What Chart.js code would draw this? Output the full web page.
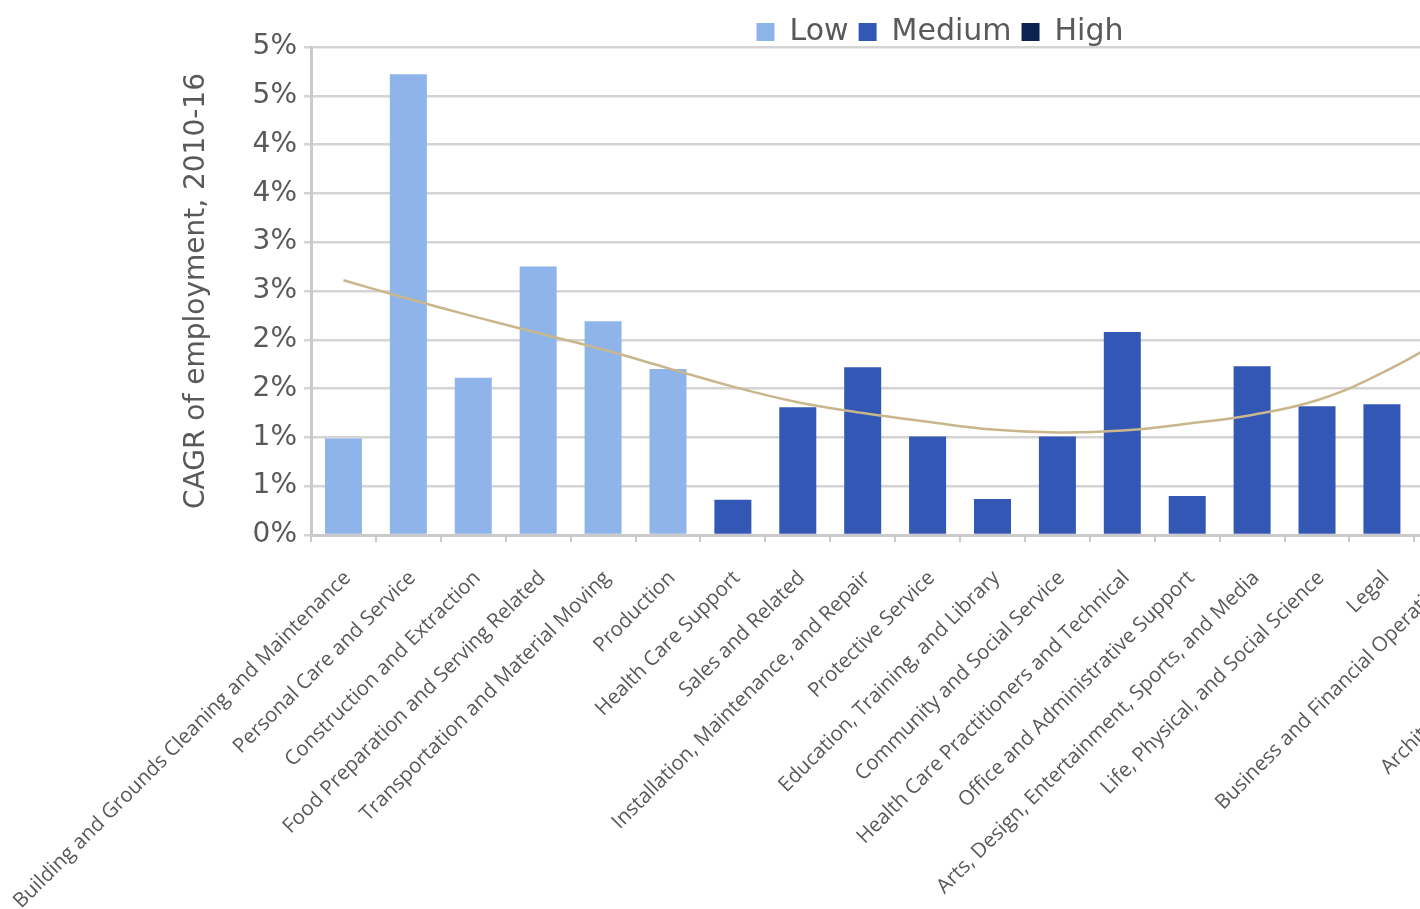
<!DOCTYPE html>
<html>
<head>
<meta charset="utf-8">
<script src="https://cdn.jsdelivr.net/npm/chart.js@4.4.1/dist/chart.umd.min.js"></script>
<style>
  html, body { margin: 0; padding: 0; background: #fff; overflow: hidden; }
  #wrap { position: relative; width: 1880px; height: 909px; }
</style>
</head>
<body>
<div id="wrap"><canvas id="cagrChart"></canvas></div>
<script>
const categories = [
  'Building and Grounds Cleaning and Maintenance',
  'Personal Care and Service',
  'Construction and Extraction',
  'Food Preparation and Serving Related',
  'Transportation and Material Moving',
  'Production',
  'Health Care Support',
  'Sales and Related',
  'Installation, Maintenance, and Repair',
  'Protective Service',
  'Education, Training, and Library',
  'Community and Social Service',
  'Health Care Practitioners and Technical',
  'Office and Administrative Support',
  'Arts, Design, Entertainment, Sports, and Media',
  'Life, Physical, and Social Science',
  'Legal',
  'Business and Financial Operations',
  'Management',
  'Architecture and Engineering',
  'Computer and Mathematical'
];

// CAGR of employment 2010-16, in percent
const lowValues    = [0.99, 4.72, 1.61, 2.75, 2.19, 1.70, null, null, null, null, null, null, null, null, null, null, null, null, null, null, null];
const mediumValues = [null, null, null, null, null, null, 0.36, 1.31, 1.72, 1.01, 0.37, 1.01, 2.08, 0.40, 1.73, 1.32, 1.34, null, null, null, null];
const highValues   = [null, null, null, null, null, null, null, null, null, null, null, null, null, null, null, null, null, 1.45, 1.30, 0.95, 2.90];
const trendValues  = [2.61, 2.42, 2.24, 2.07, 1.90, 1.71, 1.52, 1.36, 1.25, 1.16, 1.08, 1.05, 1.07, 1.14, 1.23, 1.38, 1.66, 2.05, 2.60, 3.30, 4.10];

const yTickLabels = ['0%', '1%', '1%', '2%', '2%', '3%', '3%', '4%', '4%', '5%', '5%'];

const textGrey = '#595959';
const gridGrey = '#d4d4d4';
const axisGrey = '#cacaca';

// the legend leaves less empty room under its row than Chart.js does by default
const legendTrim = {
  id: 'legendTrim',
  beforeLayout(chart) {
    const legend = chart.legend;
    if (legend && !legend._trimmed) {
      const fit = legend.fit;
      legend.fit = function () { fit.call(this); this.height -= 10; };
      legend._trimmed = true;
    }
  }
};

document.addEventListener('DOMContentLoaded', () => {
  const ctx = document.getElementById('cagrChart').getContext('2d');
  new Chart(ctx, {
    type: 'bar',
    data: {
      labels: categories,
      datasets: [
        {
          type: 'line',
          label: 'Trend',
          data: trendValues,
          borderColor: '#c9b68d',
          borderWidth: 2.5,
          pointRadius: 0,
          tension: 0.4,
          fill: false,
          order: 0
        },
        { label: 'Low', data: lowValues, backgroundColor: '#8eb4ea', order: 1 },
        { label: 'Medium', data: mediumValues, backgroundColor: '#3357b5', order: 1 },
        { label: 'High', data: highValues, backgroundColor: '#0c2250', order: 1 }
      ]
    },
    plugins: [legendTrim],
    options: {
      responsive: true,
      maintainAspectRatio: false,
      animation: false,
      datasets: {
        bar: { barPercentage: 0.57, categoryPercentage: 1.0 }
      },
      layout: { padding: { left: 0, top: 7, right: 0, bottom: 0 } },
      plugins: {
        tooltip: { enabled: false },
        legend: {
          position: 'top',
          labels: {
            boxWidth: 18,
            boxHeight: 18,
            padding: 10,
            color: textGrey,
            font: { family: 'DejaVu Sans', size: 30 },
            filter: (item) => item.text !== 'Trend'
          }
        }
      },
      scales: {
        x: {
          stacked: true,
          grid: { drawOnChartArea: false, tickLength: 7, color: axisGrey, lineWidth: 2 },
          border: { color: axisGrey, width: 3 },
          ticks: {
            autoSkip: false,
            maxRotation: 45,
            minRotation: 45,
            padding: 24,
            labelOffset: 4,
            color: textGrey,
            font: { family: 'Open Sans', size: 20.5 }
          },
          afterFit: (axis) => {
            axis.height = 374;
            axis.paddingLeft = 0;
            axis.paddingRight = 0;
          }
        },
        y: {
          min: 0,
          max: 5,
          ticks: {
            stepSize: 0.5,
            padding: 7,
            color: textGrey,
            font: { family: 'DejaVu Sans', size: 28 },
            callback: (value, index) => yTickLabels[index]
          },
          grid: { color: gridGrey, lineWidth: 2.5, tickLength: 7 },
          border: { color: axisGrey, width: 3 },
          title: {
            display: true,
            text: 'CAGR of employment, 2010-16',
            color: textGrey,
            padding: { top: 180, bottom: 4 },
            font: { family: 'DejaVu Sans', size: 28 }
          },
          afterFit: (axis) => { axis.width = 311; }
        },
        yRight: {
          type: 'linear',
          position: 'right',
          display: true,
          grid: { display: false },
          border: { display: false },
          ticks: { display: false },
          afterFit: (axis) => { axis.width = 206; }
        }
      }
    }
  });
});
</script>
</body>
</html>
